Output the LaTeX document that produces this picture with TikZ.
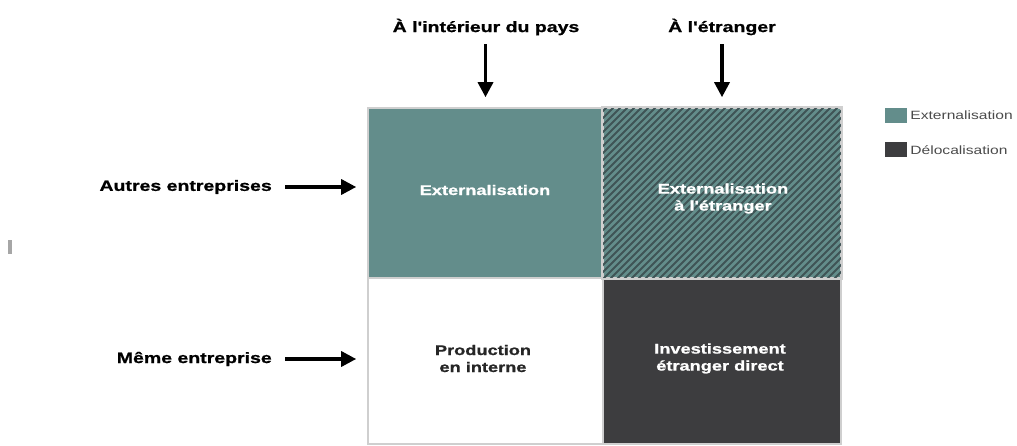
\documentclass[tikz,border=0pt]{standalone}
\usepackage{fontspec}
\setmainfont{Liberation Sans}
\newfontfamily\hv{Liberation Sans}[FakeStretch=1.3, BoldFeatures={FakeBold=1}]
\usetikzlibrary{arrows.meta}
\definecolor{teal1}{HTML}{638D8B}
\definecolor{dark1}{HTML}{3D3D3F}
\definecolor{hatchdark}{HTML}{3F5456}
\definecolor{border1}{HTML}{CFCFCF}
\definecolor{legtext}{HTML}{4A4A4A}
\tikzset{
  lab/.style={font=\hv\bfseries\fontsize{15}{17}\selectfont, text=black, inner sep=0pt},
  celltext/.style={font=\hv\bfseries\fontsize{14}{17}\selectfont, align=center, inner sep=0pt},
  cellbox/.style={draw=border1, line width=1.6pt, minimum width=235pt, minimum height=170pt, inner sep=0pt},
  arr/.style={line width=3.3pt, -{Triangle[length=15pt,width=15pt]}},
  legbox/.style={minimum width=22pt, minimum height=15pt, inner sep=0pt},
  legtxt/.style={font=\hv\fontsize{12}{14}\selectfont, text=legtext, anchor=west, inner sep=0pt}
}
\begin{document}
\begin{tikzpicture}[x=1pt,y=-1pt]
\useasboundingbox (0,0) rectangle (1017,446);
% cells
\node[cellbox, fill=teal1] (cA) at (485.5,193) {};
\node[cellbox, fill=teal1, minimum width=238pt] (cB) at (722,193) {};
\node[cellbox, fill=white, minimum height=166pt] (cC) at (485.5,361) {};
\node[cellbox, fill=dark1, minimum width=238pt, minimum height=166pt] (cD) at (722,361) {};
% hatch
\begin{scope}
  \clip (cB.south west) rectangle (cB.north east);
  \foreach \i in {-200,-193,...,250}
    \draw[hatchdark, line width=2pt] (603+\i,290) -- ++(220,-220);
\end{scope}
\draw[border1, line width=1.6pt] (cB.south west) rectangle (cB.north east);
% cell texts
\node[celltext, text=white] (tA) at (485,190) {Externalisation};
\node[celltext, text=white] (tB) at (723,198.5) {Externalisation\\à l'étranger};
\node[celltext, text=black!85] (tC) at (483,358.5) {Production\\en interne};
\node[celltext, text=white] (tD) at (720,358.5) {Investissement\\étranger direct};
% top labels
\node[lab] (t1) at (486,27) {À l'intérieur du pays};
\node[lab] (t2) at (722,27) {À l'étranger};
\draw[arr] ([yshift=-9pt]t1.south -| cA.north) -- ([yshift=10pt]cA.north);
\draw[arr] ([yshift=-9pt]t2.south -| cB.north) -- ([yshift=10pt]cB.north);
% left labels
\node[lab, anchor=east] (l1) at (272,187) {Autres entreprises};
\node[lab, anchor=east] (l2) at (272,359) {Même entreprise};
\draw[arr] ([xshift=13pt]l1.east) -- ([xshift=-11pt]l1.east -| cA.west);
\draw[arr] ([xshift=13pt]l2.east) -- ([xshift=-11pt]l2.east -| cC.west);
% legend
\node[legbox, fill=teal1] (g1) at (896,115.5) {};
\node[legbox, fill=dark1] (g2) at (896,150) {};
\node[legtxt] (g1t) at ([xshift=3pt]g1.east) {Externalisation};
\node[legtxt] (g2t) at ([xshift=3pt]g2.east) {Délocalisation};
% small mark
\fill[gray!70] (8,240) rectangle (12,254);
\end{tikzpicture}
\end{document}
